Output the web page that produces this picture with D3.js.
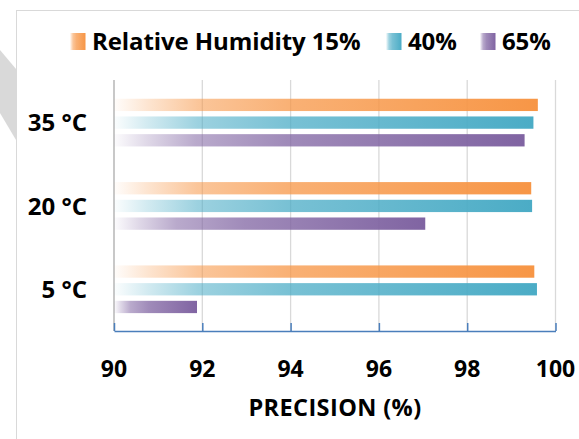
<!DOCTYPE html>
<html>
<head>
<meta charset="utf-8">
<script src="https://cdn.jsdelivr.net/npm/d3@7"></script>
<style>
  body { margin: 0; background: #fff; }
  text { font-family: "Open Sans", "Noto Sans", sans-serif; font-weight: bold; fill: #000; }
</style>
</head>
<body>
<div id="chart"></div>
<script>
var width = 579,
    height = 439;

// data
var categories = ["35 °C", "20 °C", "5 °C"];
var series = ["15%", "40%", "65%"];
var seriesLabels = ["Relative Humidity 15%", "40%", "65%"];
var values15 = [99.6, 99.45, 99.52];
var values40 = [99.5, 99.47, 99.58];
var values65 = [99.3, 97.05, 91.88];
var xTicks = [90, 92, 94, 96, 98, 100];

var colors = ["#F79646", "#4BACC6", "#8064A2"];

var rows = [];
categories.forEach(function (c, i) {
  rows.push({ cat: c, s: 0, v: values15[i] });
  rows.push({ cat: c, s: 1, v: values40[i] });
  rows.push({ cat: c, s: 2, v: values65[i] });
});

var svg = d3.select("#chart").append("svg")
    .attr("width", width)
    .attr("height", height);

svg.append("rect")
  .attr("width", width).attr("height", height)
  .attr("fill", "#fff");

// grey shape peeking in at the left edge
svg.append("path")
  .attr("d", "M0,50 L16,69 L16,140 L0,113 Z")
  .attr("fill", "#d9d9d9");

// chart area border
svg.append("rect")
  .attr("x", 16.5).attr("y", 10.5)
  .attr("width", 600).attr("height", 460)
  .attr("fill", "#fff")
  .attr("stroke", "#d9d9d9")
  .attr("stroke-width", 1);

// gradients: light at the left, full colour at the right
var defs = svg.append("defs");
colors.forEach(function (c, i) {
  var g = defs.append("linearGradient")
    .attr("id", "grad" + i)
    .attr("x1", 0).attr("x2", 1).attr("y1", 0).attr("y2", 0);
  [[0, 0.02], [0.08, 0.25], [0.2, 0.55], [0.42, 0.75], [1, 1]].forEach(function (s) {
    g.append("stop")
      .attr("offset", s[0])
      .attr("stop-color", c)
      .attr("stop-opacity", s[1]);
  });
});

var x = d3.scaleLinear().domain([90, 100]).range([114, 555.5]);

var y = d3.scaleBand().domain(categories).range([81, 331]);

var inner = d3.scaleBand()
    .domain([0, 1, 2])
    .range([y.bandwidth() * 0.213, y.bandwidth() * 0.213 + 47.7])
    .paddingInner(0.305);

// gridlines
svg.append("g").selectAll("line")
  .data(xTicks)
  .enter().append("line")
    .attr("x1", function (d) { return x(d); })
    .attr("x2", function (d) { return x(d); })
    .attr("y1", 80)
    .attr("y2", 331)
    .attr("stroke", function (d) { return d === 90 ? "#c8c8c8" : "#d9d9d9"; })
    .attr("stroke-width", function (d) { return d === 90 ? 2 : 1.3; });

// bars
svg.append("g").selectAll("rect")
  .data(rows)
  .enter().append("rect")
    .attr("x", x(90))
    .attr("y", function (d) { return y(d.cat) + inner(d.s); })
    .attr("width", function (d) { return x(d.v) - x(90); })
    .attr("height", inner.bandwidth())
    .attr("fill", function (d) { return "url(#grad" + d.s + ")"; });

// bottom axis, blue with ticks pointing up
var xAxis = svg.append("g")
  .attr("transform", "translate(0,331)")
  .call(d3.axisBottom(x).tickValues(xTicks).tickSizeInner(-8).tickSizeOuter(0).tickFormat(""));
xAxis.select(".domain").attr("stroke", "#4a7ebb").attr("stroke-width", 1.5);
xAxis.selectAll(".tick line").attr("stroke", "#4a7ebb").attr("stroke-width", 1.5);

svg.append("g").selectAll("text")
  .data(xTicks)
  .enter().append("text")
    .attr("x", function (d) { return x(d); })
    .attr("y", 377)
    .attr("text-anchor", "middle")
    .attr("font-size", 23)
    .text(function (d) { return d; });

svg.append("text")
  .attr("x", 335)
  .attr("y", 416)
  .attr("text-anchor", "middle")
  .attr("font-size", 23.5)
  .attr("letter-spacing", 0.4)
  .text("PRECISION (%)");

// category labels
svg.append("g").selectAll("text")
  .data(categories)
  .enter().append("text")
    .attr("x", 87)
    .attr("y", function (d) { return y(d) + y.bandwidth() / 2 + 8.5; })
    .attr("text-anchor", "end")
    .attr("font-size", 24)
    .text(function (d) { return d; });

// legend
var legendX = [70, 386, 480];
var legend = svg.append("g").selectAll("g")
  .data(seriesLabels)
  .enter().append("g")
    .attr("transform", function (d, i) { return "translate(" + legendX[i] + ",33)"; });

legend.append("rect")
  .attr("width", 15.5)
  .attr("height", 17)
  .attr("fill", function (d, i) { return "url(#grad" + i + ")"; });

legend.append("text")
  .attr("x", 22)
  .attr("y", 17)
  .attr("font-size", 24)
  .attr("letter-spacing", -0.1)
  .text(function (d) { return d; });
</script>
</body>
</html>
